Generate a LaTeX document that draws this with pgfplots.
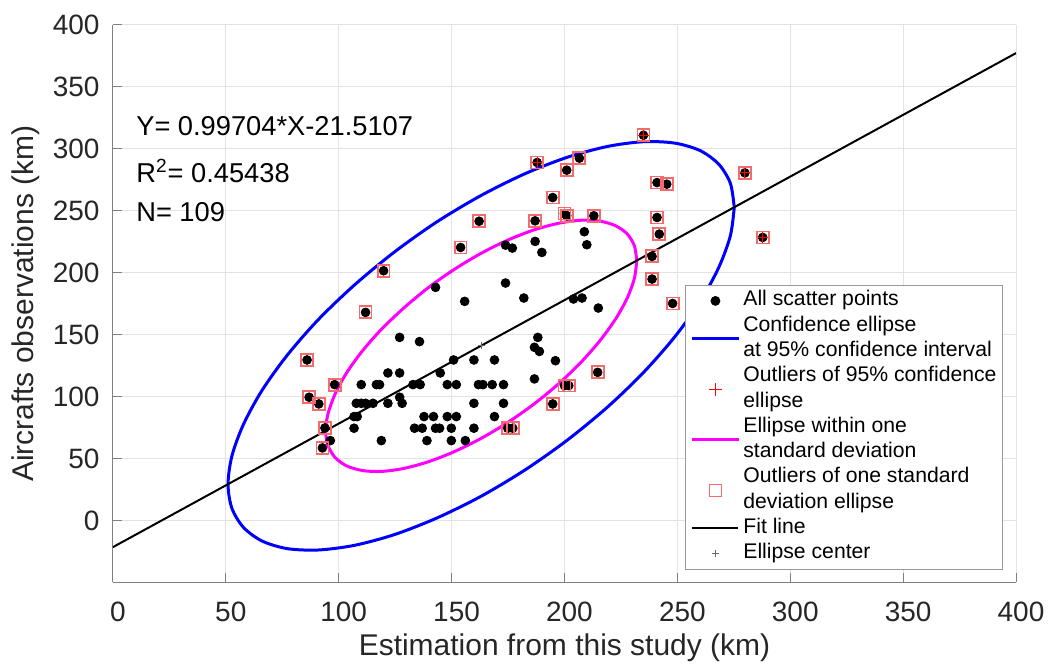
\documentclass[border=0pt]{standalone}
\usepackage{pgfplots}
\pgfplotsset{compat=1.18}
\usepackage{fontspec}
\setmainfont{Liberation Sans}
\definecolor{txt}{rgb}{0.15,0.15,0.15}
\definecolor{sqred}{rgb}{0.96,0.42,0.42}
\definecolor{mag}{rgb}{1,0,1}
\begin{document}
\begin{tikzpicture}
\path (0,0) rectangle (525.5pt,332pt);
\begin{axis}[
  at={(56.5pt,40.5pt)}, anchor=south west,
  scale only axis, width=452pt, height=279pt,
  xmin=0, xmax=400, ymin=-50, ymax=400,
  xtick={0,50,...,400}, ytick={0,50,...,400},
  axis lines=left,
  axis line style={-, draw=black!50, line width=0.6pt},
  grid=major, major grid style={line width=0.5pt, draw=black!11},
  tick align=inside, major tick length=4.5pt,
  tick style={draw=black!50, line width=0.5pt},
  /pgf/number format/assume math mode=true,
  ticklabel style={font=\fontsize{14}{16}\selectfont, text=txt},
  xticklabel style={anchor=base, yshift=-19.5pt, xshift=2.5pt},
  yticklabel style={anchor=east, inner sep=0pt, xshift=-6.5pt},
  xlabel={Estimation from this study (km)},
  ylabel={Aircrafts observations (km)},
  label style={font=\fontsize{15}{18}\selectfont, text=txt},
  xlabel style={at={(axis description cs:0.5,0)}, anchor=base, yshift=-36.5pt},
  ylabel style={at={(axis description cs:-0.0874,0.5)}, anchor=base, rotate=0},
  legend style={at={(0.9856,0.534)}, anchor=north east, draw=black!40, line width=0.5pt,
    fill=white, font=\fontsize{10.6}{12.75}\selectfont,
    inner xsep=3pt, inner ysep=1.5pt, row sep=0pt, column sep=2pt,
    nodes={inner sep=0pt, text height=8.85pt, text depth=3.8pt}},
  legend cell align=left,
  legend image code/.code={\draw[mark repeat=2,mark phase=2,#1] plot coordinates {(0pt,0pt) (11.5pt,0pt) (23pt,0pt)};},
]
% all scatter points
\addplot[only marks, mark=*, mark size=2.2pt, mark options={fill=black, draw=black}] coordinates {
(86.0,129.6) (98.2,109.7) (86.9,99.5) (91.2,94.1) (93.9,74.7) (96.3,64.5) (92.8,58.6)
(127.0,147.8) (135.8,144.4) (150.9,129.6) (159.9,129.6) (169.0,129.6)
(121.8,119.1) (127.0,119.1) (145.0,119.1)
(110.0,109.7) (116.7,109.7) (118.1,109.7) (132.9,109.7) (136.1,109.7) (148.1,109.7)
(152.1,109.7) (161.9,109.7) (163.9,109.7) (168.0,109.7) (173.0,109.7)
(107.8,94.6) (110.0,94.6) (111.9,94.6) (115.2,94.6) (121.8,94.6) (127.0,99.5) (128.1,94.6)
(159.9,94.6) (173.0,94.6)
(106.8,83.9) (108.2,83.9) (137.8,83.9) (142.0,83.9) (148.1,83.9) (152.1,83.9) (169.0,83.9)
(106.8,74.5) (133.6,74.5) (137.0,74.5) (142.9,74.5) (144.7,74.5) (149.9,74.5) (159.9,74.5)
(174.9,74.5) (177.1,74.5)
(118.9,64.5) (139.1,64.5) (149.9,64.5) (156.1,64.5)
(188.2,147.8) (186.7,139.8) (188.9,136.5) (196.0,129.0) (186.7,114.3) (214.7,119.6)
(200.0,108.9) (201.9,108.9) (194.8,94.1) (247.9,175.2) (215.0,171.5)
(235.0,311.0) (187.9,289.0) (206.6,292.5) (201.0,282.8) (279.9,280.6) (241.0,272.8)
(245.3,271.5) (194.8,260.7) (200.0,247.8) (201.0,246.0) (213.0,246.0) (187.0,241.9)
(162.2,241.6) (241.0,244.6) (242.0,231.2) (287.8,228.5) (208.8,233.1) (209.9,222.6)
(173.9,222.3) (176.9,219.9) (187.0,225.3) (190.0,216.4) (238.8,213.2) (238.8,194.9)
(173.9,191.7) (182.0,179.6) (204.0,178.8) (207.8,179.6)
(119.9,201.6) (111.9,168.0) (154.0,220.4) (142.9,188.2) (155.8,176.9)
};
\addlegendentry{All scatter points}
% 95% confidence ellipse
\addplot[draw=blue, line width=1.5pt, smooth, mark=none, legend image post style={yshift=-6.33pt, overlay}] coordinates {
(275.2,252.8) (273.5,272.1) (268.4,287.5) (260.2,298.5) (249.0,304.6) (235.2,305.8)
(219.2,302.0) (201.4,293.3) (182.6,280.0) (163.1,262.4) (143.6,241.2) (124.8,216.9)
(107.1,190.3) (91.0,162.2) (77.2,133.4) (66.0,104.9) (57.8,77.5) (52.7,52.0)
(51.0,29.2) (52.7,9.9) (57.8,-5.5) (66.0,-16.5) (77.2,-22.7) (91.0,-23.8)
(107.1,-20.0) (124.8,-11.3) (143.6,2.1) (163.1,19.6) (182.6,40.9) (201.4,65.1)
(219.2,91.8) (235.2,119.9) (249.0,148.6) (260.2,177.1) (268.4,204.5) (273.5,230.0)
(275.2,252.8)
};
\addlegendentry{Confidence ellipse}
\addlegendimage{empty legend}
\addlegendentry{at 95\% confidence interval}
% outliers of 95% ellipse
\addplot[only marks, mark=+, mark size=3.3pt, draw=red, mark options={draw=red, line width=0.6pt}, forget plot] coordinates {
(235.0,311.0) (187.9,289.0) (279.9,280.6) (287.8,228.5)
};
\addlegendimage{legend image code/.code={\begin{pgfinterruptboundingbox}\draw[draw=red, line width=0.7pt] (8.2pt,-6.33pt) -- (14.8pt,-6.33pt) (11.5pt,-9.63pt) -- (11.5pt,-3.03pt);\end{pgfinterruptboundingbox}}}
\addlegendentry{Outliers of 95\% confidence}
\addlegendimage{empty legend}
\addlegendentry{ellipse}
% one standard deviation ellipse
\addplot[draw=mag, line width=1.5pt, smooth, mark=none, legend image post style={yshift=-6.33pt, overlay}] coordinates {
(232.0,209.7) (231.0,221.6) (227.9,231.1) (222.8,237.8) (215.9,241.6) (207.4,242.4)
(197.6,240.0) (186.7,234.7) (175.1,226.5) (163.1,215.7) (151.1,202.6) (139.5,187.7)
(128.7,171.3) (118.8,154.1) (110.3,136.4) (103.4,118.9) (98.4,102.0) (95.3,86.3)
(94.2,72.3) (95.3,60.4) (98.4,50.9) (103.4,44.2) (110.3,40.4) (118.8,39.6)
(128.7,42.0) (139.5,47.3) (151.1,55.5) (163.1,66.3) (175.1,79.4) (186.7,94.3)
(197.6,110.7) (207.4,127.9) (215.9,145.6) (222.8,163.1) (227.9,180.0) (231.0,195.7)
(232.0,209.7)
};
\addlegendentry{Ellipse within one}
\addlegendimage{empty legend}
\addlegendentry{standard deviation}
% outliers of one standard deviation ellipse
\addplot[only marks, mark=square, mark size=3pt, draw=sqred, mark options={draw=sqred, line width=0.9pt}, legend image post style={yshift=-6.33pt, overlay}] coordinates {
(86.0,129.6) (98.2,109.7) (86.9,99.5) (91.2,94.1) (93.9,74.7) (92.8,58.6) (174.9,74.5)
(177.1,74.5) (214.7,119.6) (200.0,108.9) (201.9,108.9) (194.8,94.1) (247.9,175.2)
(235.0,311.0) (187.9,289.0) (206.6,292.5) (201.0,282.8) (279.9,280.6) (241.0,272.8)
(245.3,271.5) (194.8,260.7) (200.0,247.8) (201.0,246.0) (213.0,246.0) (187.0,241.9)
(162.2,241.6) (241.0,244.6) (242.0,231.2) (287.8,228.5) (238.8,213.2) (238.8,194.9)
(119.9,201.6) (111.9,168.0) (154.0,220.4)
};
\addlegendentry{Outliers of one standard}
\addlegendimage{empty legend}
\addlegendentry{deviation ellipse}
% fit line
\addplot[draw=black, line width=1pt, mark=none] coordinates {(0,-21.5107) (400,377.3053)};
\addlegendentry{Fit line}
% ellipse center
\addplot[only marks, mark=+, mark size=1.8pt, draw=black!60, mark options={line width=0.4pt}] coordinates {(163.1,141.1)};
\addlegendentry{Ellipse center}
\node[anchor=base west, inner sep=0pt, font=\fontsize{13.65}{16}\selectfont, text=black] at (axis cs:10.2,310.5) {Y= 0.99704*X-21.5107};
\node[anchor=base west, inner sep=0pt, font=\fontsize{13.65}{16}\selectfont, text=black] at (axis cs:10.2,272.8) {R\textsuperscript{2}= 0.45438};
\node[anchor=base west, inner sep=0pt, font=\fontsize{13.65}{16}\selectfont, text=black] at (axis cs:10.2,241.4) {N= 109};
\end{axis}
\end{tikzpicture}
\end{document}
